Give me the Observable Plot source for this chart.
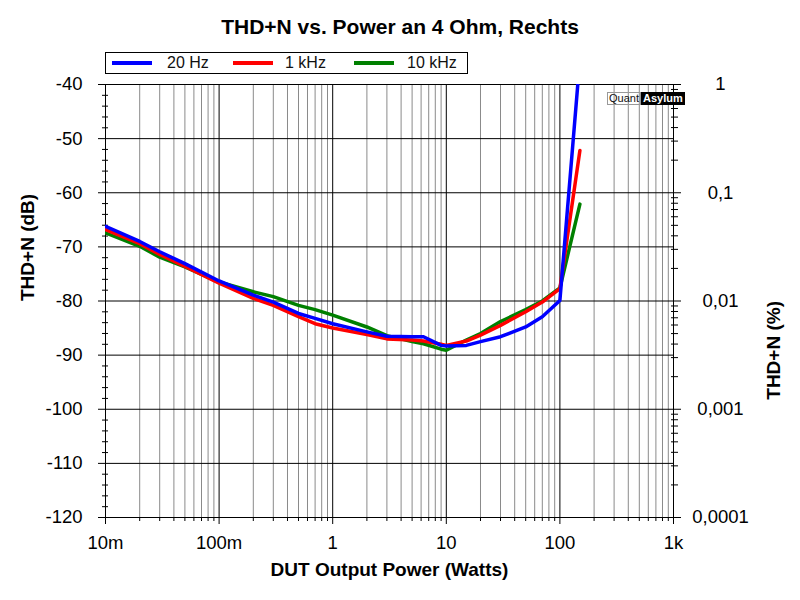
<!DOCTYPE html>
<html>
<head>
<meta charset="utf-8">
<script src="https://cdn.jsdelivr.net/npm/d3@7"></script>
<script src="https://cdn.jsdelivr.net/npm/@observablehq/plot@0.6"></script>
<style>
  body { margin: 0; background: white; font-family: "Liberation Sans", Arial, sans-serif; }
  #wrap { position: relative; width: 800px; height: 600px; overflow: hidden; }
  #head { position: relative; width: 800px; height: 68px; }
  #title { position: absolute; left: 0; top: 15px; width: 800px; text-align: center; font-weight: bold; font-size: 21px; line-height: 24px; }
  #legend { position: absolute; left: 105px; top: 52px; width: 361px; height: 20px; border: 1px solid black; box-sizing: content-box; z-index: 2; background: white; }
  .sw { position: absolute; top: 8px; width: 40px; height: 4px; }
  .lt { position: absolute; top: 0; font-size: 16px; line-height: 20px; color: #111; }
  #wm { position: absolute; left: 607px; top: 92px; font-size: 11px; line-height: 11px; display: flex; }
  #wm .q { border: 1px solid #999; padding: 0 1px; color: #111; }
  #wm .a { background: black; color: white; padding: 1px 2px; font-weight: bold; }
</style>
</head>
<body>
<div id="wrap">
  <div id="head">
    <div id="title">THD+N vs. Power an 4 Ohm, Rechts</div>
    <div id="legend"></div>
  </div>
  <div id="chart"></div>
  <div id="wm"><span class="q">Quant</span><span class="a">Asylum</span></div>
</div>
<script>
// ---- data ----
const powerW = [0.01, 0.02, 0.03, 0.05, 0.1, 0.2, 0.3, 0.5, 0.7, 1, 2, 3, 5, 6.3, 9, 10, 15, 20, 30, 50, 70, 100, 150];
const thd20Hz = [-66.2, -69.0, -70.9, -73.1, -76.3, -78.9, -80.2, -82.3, -83.2, -84.2, -85.7, -86.5, -86.6, -86.6, -88.2, -88.3, -88.2, -87.5, -86.6, -84.8, -82.9, -79.9, -35.3];
const thd1kHz = [-66.8, -69.4, -71.4, -73.6, -76.7, -79.5, -80.8, -82.9, -84.2, -85.0, -86.2, -87.0, -87.2, -87.4, -88.0, -88.2, -87.4, -86.3, -84.5, -82.0, -80.2, -77.7, -52.2];
const thd10kHz = [-67.4, -69.9, -71.9, -73.7, -76.5, -78.3, -79.2, -80.8, -81.6, -82.6, -84.8, -86.4, -87.5, -87.9, -88.9, -89.1, -87.2, -86.0, -83.8, -81.6, -80.0, -77.6, -62.1];

const seriesNames = ["20 Hz", "1 kHz", "10 kHz"];
const seriesColors = ["#0000ff", "#ff0000", "#008000"];

const xMajor = [0.01, 0.1, 1, 10, 100, 1000];
const xLabels = ["10m", "100m", "1", "10", "100", "1k"];
const yMajor = [-120, -110, -100, -90, -80, -70, -60, -50, -40];
const pctMajor = [1, 0.1, 0.01, 0.001, 0.0001];
const pctLabels = ["1", "0,1", "0,01", "0,001", "0,0001"];
const minorMult = [2, 3, 4, 5, 6, 7, 8, 9];

// ---- derived ----
const toDb = p => 20 * Math.log10(p / 100);
const xMinor = xMajor.slice(0, -1).flatMap(d => minorMult.map(k => k * d));
const yMinor = d3.range(-120, -39, 2).filter(v => v % 10 !== 0);
const pctMinor = pctMajor.slice(1).flatMap(d => minorMult.map(k => k * d)).map(toDb);
const noLabel = () => "";

const rows = [];
[[thd10kHz, 2], [thd1kHz, 1], [thd20Hz, 0]].forEach(([arr, si]) => {
  arr.forEach((v, i) => rows.push({P: powerW[i], dB: v, s: seriesNames[si]}));
});

// legend
const leg = document.getElementById("legend");
const swX = [6, 127, 248], txX = [61, 179, 301];
seriesNames.forEach((n, i) => {
  const sw = document.createElement("div");
  sw.className = "sw"; sw.style.left = swX[i] + "px"; sw.style.background = seriesColors[i];
  leg.appendChild(sw);
  const t = document.createElement("div");
  t.className = "lt"; t.style.left = txX[i] + "px"; t.textContent = n;
  leg.appendChild(t);
});

const chart = Plot.plot({
  width: 800,
  height: 532,
  marginLeft: 105,
  marginRight: 127,
  marginTop: 16,
  marginBottom: 83,
  style: {fontSize: "18.5px", fontFamily: "'Liberation Sans', Arial, sans-serif", background: "white", color: "black"},
  x: {type: "log", domain: [0.01, 1000]},
  y: {domain: [-120, -40]},
  color: {domain: seriesNames, range: seriesColors},
  marks: [
    Plot.ruleX(xMinor, {stroke: "#8a8a8a", strokeWidth: 1}),
    Plot.ruleX(xMajor, {stroke: "black", strokeWidth: 1}),
    Plot.ruleY(yMajor, {stroke: "black", strokeWidth: 1}),
    Plot.frame({stroke: "black"}),
    // bottom axis
    Plot.axisX({ticks: xMajor, tickSize: 7, tickPadding: 11, tickFormat: d => xLabels[xMajor.findIndex(v => Math.abs(v - d) < 1e-9)], label: null}),
    Plot.axisX({ticks: xMinor, tickSize: 4, tickFormat: noLabel, label: null}),
    // left axis
    Plot.axisY({ticks: yMajor, tickSize: 7, tickPadding: 16, tickFormat: d => String(d), label: null}),
    Plot.axisY({ticks: yMinor, tickSize: 6, dx: 3, tickFormat: noLabel, label: null}),
    // right axis (percent)
    Plot.axisY({anchor: "right", ticks: pctMajor.map(toDb), tickSize: 7, tickPadding: 40, textAnchor: "middle",
      tickFormat: d => pctLabels[pctMajor.findIndex(p => Math.abs(toDb(p) - d) < 1e-6)], label: null}),
    Plot.axisY({anchor: "right", ticks: pctMinor, tickSize: 7, dx: -3, tickFormat: noLabel, label: null}),
    // curves
    Plot.line(rows, {x: "P", y: "dB", z: "s", stroke: "s", strokeWidth: 3.5, clip: true}),
    // axis titles
    Plot.text(["DUT Output Power (Watts)"], {frameAnchor: "bottom", dy: 58, fontWeight: "bold", fontSize: 19}),
    Plot.text(["THD+N (dB)"], {frameAnchor: "left", dx: -78, rotate: -90, fontWeight: "bold", fontSize: 19}),
    Plot.text(["THD+N (%)"], {frameAnchor: "right", dx: 100, rotate: -90, fontWeight: "bold", fontSize: 19})
  ]
});
document.getElementById("chart").appendChild(chart);
</script>
</body>
</html>
